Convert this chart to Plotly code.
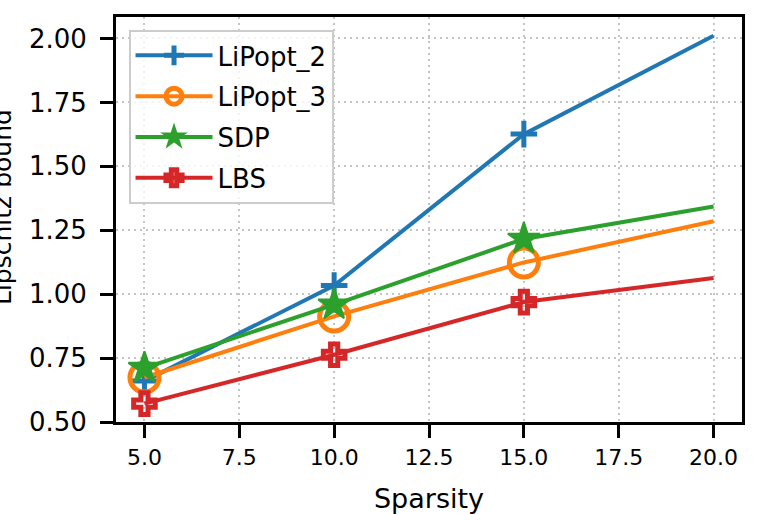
import plotly.graph_objects as go

sparsity = [5, 10, 15, 20]
lipopt_2 = [0.66, 1.034, 1.626, 2.011]
lipopt_3 = [0.674, 0.913, 1.124, 1.285]
sdp = [0.711, 0.959, 1.216, 1.343]
lbs = [0.572, 0.763, 0.969, 1.063]

series = [
    ("LiPopt_2", lipopt_2, "#1f77b4", "cross-thin-open", 19, 5),
    ("LiPopt_3", lipopt_3, "#ff7f0e", "circle-open", 29, 5),
    ("SDP", sdp, "#2ca02c", "star", 24, 2),
    ("LBS", lbs, "#d62728", "cross-open", 18, 5),
]

FONT = "DejaVu Sans"

fig = go.Figure()
for name, vals, color, sym, size, lw in series:
    # markers only on the first three points, like markevery in the original
    sizes = [size] * (len(vals) - 1) + [0]
    fig.add_trace(go.Scatter(
        x=sparsity, y=vals, name=name, mode="lines+markers",
        line=dict(color=color, width=4),
        marker=dict(symbol=sym, size=sizes, color=color, opacity=1,
                    line=dict(color=color, width=lw)),
        legendgroup=name,
    ))

axis_common = dict(
    showline=True, linecolor="black", linewidth=3, mirror=True,
    ticks="outside", ticklen=13, tickwidth=3, tickcolor="black",
    showgrid=True, gridcolor="#c4c4c4", gridwidth=2, griddash="2px,4px",
    zeroline=False, automargin=False,
)

fig.update_xaxes(range=[4.25, 20.75], tickvals=[5, 7.5, 10, 12.5, 15, 17.5, 20],
                 ticktext=["5.0", "7.5", "10.0", "12.5", "15.0", "17.5", "20.0"],
                 tickfont=dict(size=22, color="black", family=FONT),
                 ticklabelstandoff=1,
                 title=dict(text="Sparsity", font=dict(size=27, color="black", family=FONT),
                            standoff=23),
                 **axis_common)
fig.update_yaxes(range=[0.5, 2.084], tickvals=[0.5, 0.75, 1.0, 1.25, 1.5, 1.75, 2.0],
                 ticktext=["0.50", "0.75", "1.00", "1.25", "1.50", "1.75", "2.00"],
                 tickfont=dict(size=26, color="black", family=FONT),
                 ticklabelstandoff=8,
                 **axis_common)

fig.add_annotation(text="Lipschitz bound", textangle=-90, xref="paper", yref="paper",
                   x=-0.181, y=0.53, xanchor="center", yanchor="middle", showarrow=False,
                   font=dict(size=25, color="black", family=FONT))

fig.update_layout(
    width=759, height=514,
    margin=dict(l=116, r=17, t=17, b=92),
    plot_bgcolor="white", paper_bgcolor="white",
    font=dict(family=FONT, color="black"),
    legend=dict(x=0.020, y=0.968, xanchor="left", yanchor="top",
                bgcolor="rgba(255,255,255,0.8)", bordercolor="#cccccc", borderwidth=2,
                font=dict(size=26, family=FONT, color="black"),
                tracegroupgap=4, itemwidth=77, entrywidth=141),
    showlegend=True,
)

fig.write_html("out.html", config={"displayModeBar": False},
               post_script="document.body.style.margin='0';")
